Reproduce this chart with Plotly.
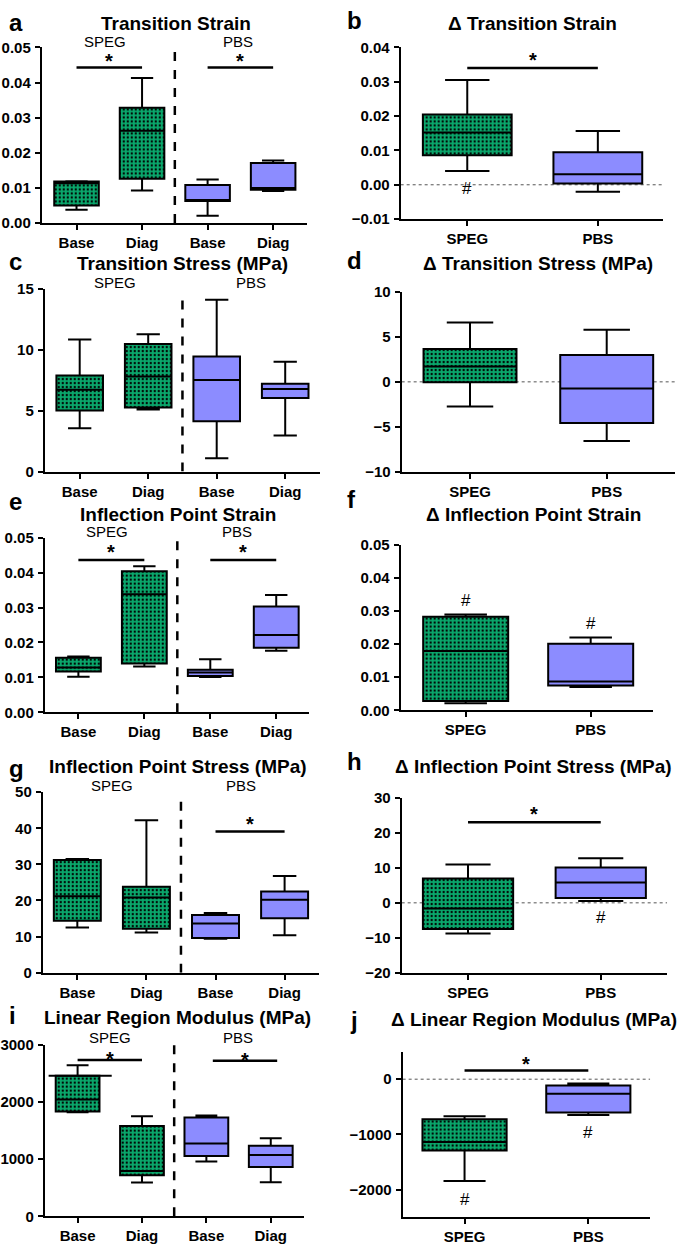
import plotly.graph_objects as go

W, H = 685, 1246
GREEN = "#0AA86C"
LAV = "#8C8CFF"
FONT = "Liberation Sans, Arial, sans-serif"

# ---------------- data ----------------
ticks4 = ["Base", "Diag", "Base", "Diag"]
ticks2 = ["SPEG", "PBS"]
colors4 = [GREEN, GREEN, LAV, LAV]
colors2 = [GREEN, LAV]

# a: Transition Strain
a_min = [0.0038, 0.0093, 0.0021, 0.0091]
a_q1 = [0.0050, 0.0126, 0.0063, 0.0095]
a_med = [0.0113, 0.0263, 0.0065, 0.0100]
a_q3 = [0.0118, 0.0328, 0.0108, 0.0171]
a_max = [0.0119, 0.0413, 0.0124, 0.0178]
# b: Delta Transition Strain
b_min = [0.0040, -0.0020]
b_q1 = [0.0086, 0.0004]
b_med = [0.0152, 0.0031]
b_q3 = [0.0205, 0.0095]
b_max = [0.0305, 0.0157]
# c: Transition Stress
c_min = [3.56, 5.10, 1.10, 2.97]
c_q1 = [5.03, 5.27, 4.13, 6.06]
c_med = [6.73, 7.82, 7.52, 6.79]
c_q3 = [7.90, 10.48, 9.47, 7.22]
c_max = [10.85, 11.29, 14.13, 9.04]
# d: Delta Transition Stress
d_min = [-2.75, -6.59]
d_q1 = [-0.05, -4.58]
d_med = [1.72, -0.73]
d_q3 = [3.66, 3.00]
d_max = [6.60, 5.79]
# e: Inflection Point Strain
e_min = [0.0102, 0.0131, 0.0101, 0.0176]
e_q1 = [0.0117, 0.0140, 0.0104, 0.0185]
e_med = [0.0128, 0.0338, 0.0114, 0.0221]
e_q3 = [0.0156, 0.0404, 0.0122, 0.0303]
e_max = [0.0160, 0.0418, 0.0152, 0.0336]
# f: Delta Inflection Point Strain
f_min = [0.0021, 0.0070]
f_q1 = [0.0028, 0.0075]
f_med = [0.0179, 0.0087]
f_q3 = [0.0282, 0.0201]
f_max = [0.0289, 0.0220]
# g: Inflection Point Stress
g_min = [12.5, 11.1, 9.4, 10.4]
g_q1 = [14.4, 12.2, 9.6, 15.1]
g_med = [21.2, 20.8, 13.6, 20.2]
g_q3 = [31.2, 23.8, 16.0, 22.5]
g_max = [31.5, 42.2, 16.5, 26.8]
# h: Delta Inflection Point Stress
h_min = [-8.8, 0.5]
h_q1 = [-7.5, 1.4]
h_med = [-1.6, 5.8]
h_q3 = [7.0, 10.1]
h_max = [11.0, 12.8]
# i: Linear Region Modulus
i_min = [1819, 591, 958, 597]
i_q1 = [1830, 717, 1056, 861]
i_med = [2042, 792, 1274, 1073]
i_q3 = [2455, 1578, 1727, 1234]
i_max = [2639, 1750, 1761, 1365]
# j: Delta Linear Region Modulus
j_min = [-1844, -649]
j_q1 = [-1291, -601]
j_med = [-1135, -264]
j_q3 = [-727, -114]
j_max = [-673, -78]

# significance bars: [x_start, x_end, y]
sig_a = [[0, 1, 0.0443], [2, 3, 0.0443]]
sig_b = [[0, 1, 0.0340]]
sig_e = [[0, 1, 0.0436], [2, 3, 0.0436]]
sig_g = [[2, 3, 39.1]]
sig_h = [[0, 1, 23.1]]
sig_i = [[0, 1, 2731], [2.1, 3.1, 2719]]
sig_j = [[0, 1, 156]]

# '#' marks: [x, y]
hash_b = [[0, -0.0010]]
hash_f = [[0, 0.0330], [1, 0.0262]]
hash_h = [[1, -4.2]]
hash_j = [[0, -2180], [1, -970]]

# ---------------- layout helpers ----------------
def px(x):
    return x / W


def py(y):
    return 1 - y / H


fig = go.Figure()

panels = [
    dict(n=1, box=(38, 305, 39, 217), xr=[-0.53, 3.52], yr=[0, 0.05],
         yt=[0, 0.01, 0.02, 0.03, 0.04, 0.05], fmt=".2f",
         d=(a_min, a_q1, a_med, a_q3, a_max), tt=ticks4, col=colors4,
         sig=sig_a, hsh=[], dash=0.049, zero=False, star=8),
    dict(n=2, box=(399, 663, 39, 213), xr=[-0.51, 1.5], yr=[-0.01, 0.04],
         yt=[-0.01, 0, 0.01, 0.02, 0.03, 0.04], fmt=".2f",
         d=(b_min, b_q1, b_med, b_q3, b_max), tt=ticks2, col=colors2,
         sig=sig_b, hsh=hash_b, dash=None, zero=True, star=9),
    dict(n=3, box=(41, 318, 284, 469), xr=[-0.51, 3.51], yr=[0, 15],
         yt=[0, 5, 10, 15], fmt="d",
         d=(c_min, c_q1, c_med, c_q3, c_max), tt=ticks4, col=colors4,
         sig=[], hsh=[], dash=14.7, zero=False, star=8),
    dict(n=4, box=(400, 675, 287, 469), xr=[-0.5, 1.5], yr=[-10, 10],
         yt=[-10, -5, 0, 5, 10], fmt="d",
         d=(d_min, d_q1, d_med, d_q3, d_max), tt=ticks2, col=colors2,
         sig=[], hsh=[], dash=None, zero=True, star=8),
    dict(n=5, box=(41, 307, 536, 713), xr=[-0.51, 3.5], yr=[0, 0.05],
         yt=[0, 0.01, 0.02, 0.03, 0.04, 0.05], fmt=".2f",
         d=(e_min, e_q1, e_med, e_q3, e_max), tt=ticks4, col=colors4,
         sig=sig_e, hsh=[], dash=0.052, zero=False, star=9),
    dict(n=6, box=(399, 653, 543, 711), xr=[-0.52, 1.5], yr=[0, 0.05],
         yt=[0, 0.01, 0.02, 0.03, 0.04, 0.05], fmt=".2f",
         d=(f_min, f_q1, f_med, f_q3, f_max), tt=ticks2, col=colors2,
         sig=[], hsh=hash_f, dash=None, zero=False, star=8),
    dict(n=7, box=(39, 317, 794, 977), xr=[-0.5, 3.5], yr=[0, 50],
         yt=[0, 10, 20, 30, 40, 50], fmt="d",
         d=(g_min, g_q1, g_med, g_q3, g_max), tt=ticks4, col=colors4,
         sig=sig_g, hsh=[], dash=49, zero=False, star=9),
    dict(n=8, box=(400, 667, 800, 977), xr=[-0.5, 1.5], yr=[-20, 30],
         yt=[-20, -10, 0, 10, 20, 30], fmt="d",
         d=(h_min, h_q1, h_med, h_q3, h_max), tt=ticks2, col=colors2,
         sig=sig_h, hsh=hash_h, dash=None, zero=True, star=10),
    dict(n=9, box=(41, 302, 1050, 1224), xr=[-0.51, 3.52], yr=[0, 3000],
         yt=[0, 1000, 2000, 3000], fmt="d",
         d=(i_min, i_q1, i_med, i_q3, i_max), tt=ticks4, col=colors4,
         sig=sig_i, hsh=[], dash=3080, zero=False, star=2),
    dict(n=10, box=(401, 650, 1057, 1225), xr=[-0.5, 1.5], yr=[-2500, 500],
         yt=[-2000, -1000, 0], fmt="d",
         d=(j_min, j_q1, j_med, j_q3, j_max), tt=ticks2, col=colors2,
         sig=sig_j, hsh=hash_j, dash=None, zero=True, star=8),
]

shapes = []
annotations = []
BW = 0.68
STAR_SIZE = 20

for p in panels:
    n = p["n"]
    sx = "" if n == 1 else str(n)
    xa, ya = "x" + sx, "y" + sx
    l, r, t, b = p["box"]
    mins, q1, med, q3, maxs = p["d"]
    idx = list(range(len(q1)))
    g_idx = [k for k in idx if p["col"][k] == GREEN]
    l_idx = [k for k in idx if p["col"][k] == LAV]

    # dotted fill for SPEG boxes
    fig.add_trace(go.Bar(
        x=g_idx, base=[q1[k] for k in g_idx], y=[q3[k] - q1[k] for k in g_idx],
        width=BW, xaxis=xa, yaxis=ya, showlegend=False, hoverinfo="skip",
        marker=dict(color=GREEN, line=dict(width=0),
                    pattern=dict(shape=".", fgcolor="black", bgcolor=GREEN,
                                 size=4, solidity=0.25, fillmode="replace"))))
    for ids, fc in ((g_idx, "rgba(0,0,0,0)"), (l_idx, LAV)):
        fig.add_trace(go.Box(
            x=ids, q1=[q1[k] for k in ids], median=[med[k] for k in ids],
            q3=[q3[k] for k in ids], lowerfence=[mins[k] for k in ids],
            upperfence=[maxs[k] for k in ids], width=BW, whiskerwidth=0.5,
            fillcolor=fc, line=dict(color="black", width=2), boxpoints=False,
            xaxis=xa, yaxis=ya, showlegend=False, hoverinfo="skip"))

    fig.update_layout(**{
        "xaxis" + sx: dict(domain=[px(l), px(r)], range=p["xr"], type="linear",
                           anchor=ya, tickvals=idx, ticktext=p["tt"],
                           showline=True, linecolor="black", linewidth=2,
                           ticks="outside", ticklen=5, tickwidth=2,
                           tickcolor="black", showgrid=False, zeroline=False,
                           tickfont=dict(family=FONT, size=15, color="black",
                                         weight="bold"), fixedrange=True),
        "yaxis" + sx: dict(domain=[py(b), py(t)], range=p["yr"], anchor=xa,
                           tickvals=p["yt"], tickformat=p["fmt"],
                           showline=True, linecolor="black", linewidth=2,
                           ticks="outside", ticklen=5, tickwidth=2,
                           tickcolor="black", showgrid=False, zeroline=False,
                           tickfont=dict(family=FONT, size=15, color="black",
                                         weight="bold"),
                           ticklabelstandoff=1, fixedrange=True),
    })

    if p["dash"] is not None:
        shapes.append(dict(type="line", xref=xa, yref=ya, x0=1.5, x1=1.5,
                           y0=p["yr"][0], y1=p["dash"],
                           line=dict(color="black", width=2.5, dash="dash")))
    if p["zero"]:
        shapes.append(dict(type="line", xref=xa, yref=ya, x0=p["xr"][0],
                           x1=p["xr"][1], y0=0, y1=0, layer="below",
                           line=dict(color="#555555", width=1, dash="dot")))
    for x0, x1, y in p["sig"]:
        shapes.append(dict(type="line", xref=xa, yref=ya, x0=x0, x1=x1,
                           y0=y, y1=y, line=dict(color="black", width=2.5)))
        # glyph centre placed roughly p["star"] px above the bar
        annotations.append(dict(xref=xa, yref=ya, x=(x0 + x1) / 2, y=y,
                                text="*", showarrow=False, yanchor="top",
                                borderpad=0,
                                yshift=p["star"] + 0.33 * STAR_SIZE + 4,
                                font=dict(family=FONT, size=STAR_SIZE,
                                          color="black", weight="bold")))
    for x, y in p["hsh"]:
        annotations.append(dict(xref=xa, yref=ya, x=x, y=y, text="#",
                                showarrow=False, yanchor="middle",
                                font=dict(family=FONT, size=17, color="black")))

# extended cap line at SPEG Base q3 in panel i
shapes.append(dict(type="line", xref="x9", yref="y9", x0=-0.45, x1=0.53,
                   y0=i_q3[0], y1=i_q3[0], line=dict(color="black", width=2)))

titles = [
    ("Transition Strain", 173, 15), ("Δ Transition Strain", 532, 15),
    ("Transition Stress (MPa)", 180, 258), ("Δ Transition Stress (MPa)", 537, 258),
    ("Inflection Point Strain", 175, 512), ("Δ Inflection Point Strain", 533, 512),
    ("Inflection Point Stress (MPa)", 175, 768), ("Δ Inflection Point Stress (MPa)", 533, 768),
    ("Linear Region Modulus (MPa)", 175, 1022), ("Δ Linear Region Modulus (MPa)", 533, 1024),
]
for txt, x, y in titles:
    annotations.append(dict(xref="paper", yref="paper", x=px(x), y=py(y),
                            text=txt, showarrow=False, xanchor="center",
                            yanchor="middle", borderpad=0,
                            font=dict(family=FONT, size=19, color="black",
                                      weight="bold")))

letters = [("a", 3, 14), ("b", 343, 12), ("c", 3, 256), ("d", 343, 255),
           ("e", 3, 499), ("f", 343, 497), ("g", 3, 770), ("h", 343, 763),
           ("i", 3, 1020), ("j", 346, 1025)]
for txt, x, y in letters:
    annotations.append(dict(xref="paper", yref="paper", x=px(x), y=py(y),
                            text=txt, showarrow=False, xanchor="left",
                            yanchor="middle",
                            font=dict(family=FONT, size=24, color="black",
                                      weight="bold")))

group_labels = [(102, 235, 33), (112, 248, 277), (104, 234, 530),
                (109, 238, 787), (107, 235, 1043)]
for xs, xp, y in group_labels:
    for txt, x in (("SPEG", xs), ("PBS", xp)):
        annotations.append(dict(xref="paper", yref="paper", x=px(x), y=py(y),
                                text=txt, showarrow=False, xanchor="center",
                                yanchor="middle", borderpad=0,
                                font=dict(family=FONT, size=15, color="black")))

fig.update_layout(width=W, height=H, margin=dict(l=0, r=0, t=0, b=0),
                  paper_bgcolor="white", plot_bgcolor="white",
                  boxmode="overlay", barmode="overlay", showlegend=False,
                  shapes=shapes, annotations=annotations)

fig.write_html("out.html", config={"displayModeBar": False},
               post_script="document.body.style.margin='0';")
